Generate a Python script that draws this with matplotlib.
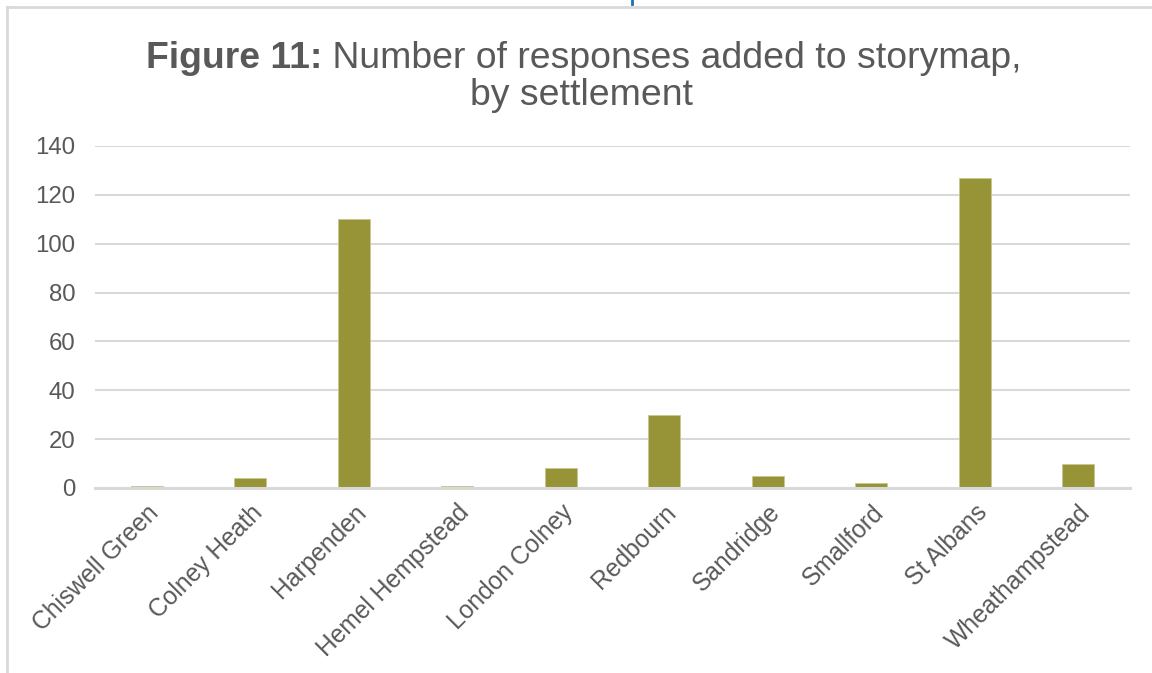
import matplotlib
matplotlib.use("Agg")
import matplotlib.pyplot as plt
from matplotlib.lines import Line2D

settlements = ["Chiswell Green", "Colney Heath", "Harpenden", "Hemel Hempstead",
               "London Colney", "Redbourn", "Sandridge", "Smallford", "St Albans",
               "Wheathampstead"]
responses = [1, 4, 110, 1, 8, 30, 5, 2, 127, 10]
yticks = [0, 20, 40, 60, 80, 100, 120, 140]

plt.rcParams['font.family'] = ['Liberation Sans', 'DejaVu Sans']
TXT = '#595959'
GRID = '#d9d9d9'
BAR = '#979438'

W, H = 1152, 673
fig = plt.figure(figsize=(W/100, H/100), dpi=100)
ax = fig.add_axes([95/W, 1-488/H, (1130-95)/W, (488-146)/H])

x = list(range(len(settlements)))
ax.bar(x, responses, width=0.31, color=BAR, edgecolor='#c9c78f', linewidth=0.6, zorder=3)
ax.set_xlim(-0.5, len(settlements)-0.5)
ax.set_ylim(0, 140)
ax.set_yticks(yticks)
ax.yaxis.grid(True, color=GRID, linewidth=1.5, zorder=0)
ax.set_axisbelow(True)
for s in ['top', 'right', 'left']:
    ax.spines[s].set_visible(False)
ax.spines['bottom'].set_color(GRID)
ax.spines['bottom'].set_linewidth(2.2)
ax.spines['bottom'].set_zorder(4)
ax.tick_params(axis='both', length=0, labelsize=17.3, labelcolor=TXT)
ax.tick_params(axis='x', labelsize=17.7, pad=9)
ax.tick_params(axis='y', pad=14)
ax.set_xticks(x)
ax.set_xticklabels(settlements, rotation=45, ha='right', rotation_mode='anchor')

# Title: bold prefix + normal text, centred
renderer = fig.canvas.get_renderer()
TS = 26.9
tb = fig.text(0, 0, "Figure 11:", fontsize=TS, fontweight='bold', color=TXT)
tn = fig.text(0, 0, " Number of responses added to storymap,", fontsize=TS, color=TXT)
wb = tb.get_window_extent(renderer).width
wn = tn.get_window_extent(renderer).width
cx = 584
x0 = cx - (wb + wn) / 2
tb.set_position((x0 / W, 1 - 68 / H))
tb.set_va('baseline')
tn.set_position(((x0 + wb) / W, 1 - 68 / H))
tn.set_va('baseline')
fig.text(581 / W, 1 - 105 / H, "by settlement", fontsize=TS, color=TXT,
         ha='center', va='baseline')

# border frame and fragment
fig.add_artist(Line2D([7/W, 1], [1-7/H, 1-7/H], color=GRID, linewidth=2, transform=fig.transFigure))
fig.add_artist(Line2D([7/W, 7/W], [0, 1-7/H], color=GRID, linewidth=2, transform=fig.transFigure))
fig.add_artist(Line2D([632/W, 632/W], [1, 1-4/H], color='#1f6fb0', linewidth=2, transform=fig.transFigure))

fig.savefig("out.png", dpi=100)
